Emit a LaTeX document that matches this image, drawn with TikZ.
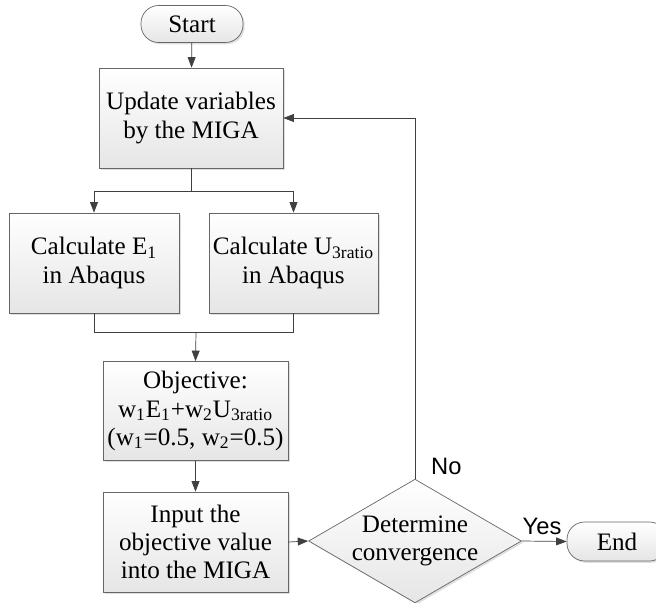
\documentclass[tikz,border=0pt]{standalone}
\usepackage{fontspec}
\setmainfont{Liberation Serif}
\newfontfamily\labelfont{Liberation Sans}
\usetikzlibrary{shapes.geometric,arrows.meta,shadows}

\begin{document}
\begin{tikzpicture} [x = 0.02cm, y = -0.02cm,
  font = \fontsize{14.3}{16}\selectfont,
  box/.style = {draw = black!60, top color = white, bottom color = black!10,
    drop shadow = {shadow xshift = 1pt, shadow yshift = -1pt, opacity = 0.25},
    align = center, inner sep = 0pt, minimum height = 2cm},
  pill/.style = {box, rounded corners = 10pt, minimum height = 0.74cm, minimum width = 2.04cm},
  decision/.style = {box, diamond, aspect = 1.72, minimum width = 4.2cm, minimum height = 2.44cm},
  arr/.style = {draw = black!75, -{Triangle[length = 6pt, width = 4.5pt]}},
  line/.style = {draw = black!75},
  tag/.style = {font = \labelfont\fontsize{13.5}{15}\selectfont}]
\useasboundingbox (0, 0) rectangle (656, 602);
\node[pill] (start) at (192, 24){Start};
\node[box, minimum width = 3.68cm] (update) at (191, 118){Update variables\\by the MIGA};
\node[box, minimum width = 3.4cm] (calcE) at (94, 263){Calculate E\textsubscript{1}\\in Abaqus};
\node[box, minimum width = 3.38cm] (calcU) at (293.5, 263){Calculate U\textsubscript{3ratio}\\in Abaqus};
\node[box, minimum width = 3.7cm, minimum height = 1.98cm] (obj) at (195.5, 411){Objective:\\w\textsubscript{1}E\textsubscript{1}+w\textsubscript{2}U\textsubscript{3ratio}\\(w\textsubscript{1}=0.5, w\textsubscript{2}=0.5)};
\node[box, minimum width = 3.7cm] (input) at (195.5, 542){Input the\\objective value\\into the MIGA};
\node[decision] (conv) at (415, 541){Determine\\convergence};
\node[pill, minimum width = 2cm, minimum height = 0.78cm] (finish) at (617, 541.5){End};
\coordinate (split) at (191, 191);
\coordinate (merge) at (196, 332);
\draw[arr] (start) -- (update);
\draw[line] (update.south) -- (split);
\draw[arr] (split) -| (calcE.north);
\draw[arr] (split) -| (calcU.north);
\draw[line] (calcE.south) |- (merge);
\draw[line] (calcU.south) |- (merge);
\draw[arr] (merge) -- (obj.north);
\draw[arr] (obj) -- (input);
\draw[arr] (input.east) -- (conv.west);
\draw[arr] (conv.north) |- (update.east);
\draw[arr] (conv.east) -- (finish.west);
\node[tag, above right, xshift = 0.2cm, yshift = -0.05cm] (no) at (conv.north){No};
\node[tag, above] (yes) at (542, 541){Yes};
\end{tikzpicture}
\end{document}
